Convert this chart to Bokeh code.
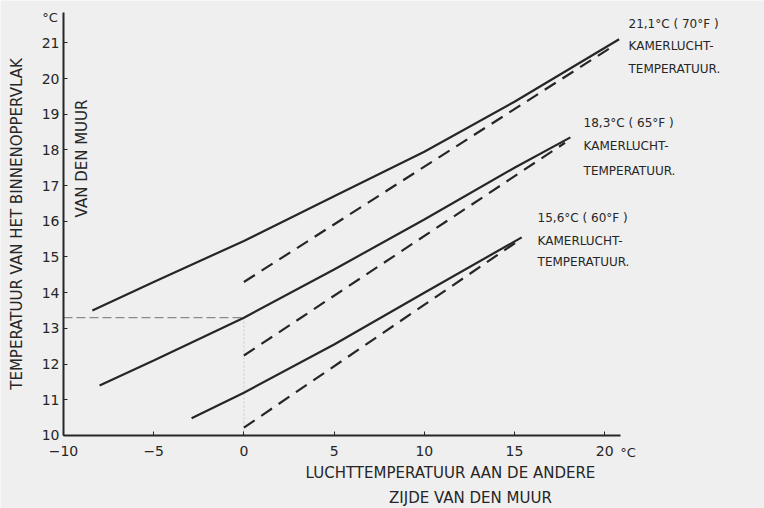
from bokeh.plotting import figure
from bokeh.models import Label, FixedTicker, Range1d
from bokeh.embed import file_html
from bokeh.resources import INLINE
import math

# ---- data ----
x_ticks = [-10, -5, 0, 5, 10, 15, 20]
y_ticks = [10, 11, 12, 13, 14, 15, 16, 17, 18, 19, 20, 21]

# solid curves: wall surface temperature vs outside air temperature
top_x = [-8.4, -5, 0, 5, 10, 15, 20.8]
top_y = [13.5, 14.3, 15.45, 16.7, 17.95, 19.35, 21.1]
mid_x = [-8.0, -5, 0, 5, 10, 15, 18.1]
mid_y = [11.4, 12.1, 13.3, 14.65, 16.05, 17.5, 18.35]
low_x = [-2.9, 0, 5, 10, 15.4]
low_y = [10.48, 11.2, 12.55, 14.0, 15.55]

# dashed straight lines
top_dx = [0, 20.6]
top_dy = [14.3, 20.95]
mid_dx = [0, 17.8]
mid_dy = [12.24, 18.2]
low_dx = [0, 15.2]
low_dy = [10.22, 15.45]

# reading guide at 0 degC outside -> 13.3 degC
guide_hx = [-10, 0]
guide_hy = [13.3, 13.3]
guide_vx = [0, 0]
guide_vy = [10, 13.3]

labels_top = ["21,1°C ( 70°F )", "KAMERLUCHT-", "TEMPERATUUR."]
labels_mid = ["18,3°C ( 65°F )", "KAMERLUCHT-", "TEMPERATUUR."]
labels_low = ["15,6°C ( 60°F )", "KAMERLUCHT-", "TEMPERATUUR."]

BG = "#efefef"
INK = "#262626"
FONT = "DejaVu Sans"

# frame covers the whole canvas; axes are drawn at fixed locations
p = figure(width=764, height=508,
           x_range=Range1d(-13.492, 28.858), y_range=Range1d(7.955, 22.185),
           output_backend="svg", toolbar_location=None,
           min_border_left=0, min_border_right=0,
           min_border_top=0, min_border_bottom=0)

p.background_fill_color = BG
p.border_fill_color = BG
p.outline_line_color = None
p.grid.visible = False

for ax in (p.xaxis[0], p.yaxis[0]):
    ax.axis_line_color = INK
    ax.axis_line_width = 2
    ax.major_tick_line_color = INK
    ax.major_tick_in = 4
    ax.major_tick_out = 0
    ax.minor_tick_line_color = None
    ax.major_label_text_font = FONT
    ax.major_label_text_font_size = "14px"
    ax.major_label_text_color = INK

p.xaxis.fixed_location = 10
p.yaxis.fixed_location = -10
p.xaxis.bounds = (-10, 20.88)
p.yaxis.bounds = (10, 21.85)
p.xaxis.ticker = FixedTicker(ticks=x_ticks)
p.yaxis.ticker = FixedTicker(ticks=y_ticks)
p.xaxis.major_label_standoff = 11
p.yaxis.major_label_standoff = 4

p.yaxis.axis_label = "TEMPERATUUR VAN HET BINNENOPPERVLAK"
p.yaxis.axis_label_text_font = FONT
p.yaxis.axis_label_text_font_size = "15px"
p.yaxis.axis_label_text_font_style = "normal"
p.yaxis.axis_label_text_color = INK
p.yaxis.axis_label_standoff = 13

# guides
p.line(guide_hx, guide_hy, line_color="#8a8a8a", line_width=1.2, line_dash="9 4")
p.line(guide_vx, guide_vy, line_color="#d0d0d0", line_width=1.2, line_dash="2 2")

# curves
for xs, ys in ((top_x, top_y), (mid_x, mid_y), (low_x, low_y)):
    p.line(xs, ys, line_color=INK, line_width=2.2)
for xs, ys in ((top_dx, top_dy), (mid_dx, mid_dy), (low_dx, low_dy)):
    p.line(xs, ys, line_color=INK, line_width=2.2, line_dash="13 8")

def lab(x, y, text, size="12px", align="left", angle=0.0):
    p.add_layout(Label(x=x, y=y, text=text, text_font=FONT, text_font_size=size,
                       text_color=INK, text_align=align, text_baseline="middle",
                       angle=angle))

# curve annotations
for i, t in enumerate(labels_top):
    lab(21.32, [21.54, 20.92, 20.28][i], t)
for i, t in enumerate(labels_mid):
    lab(18.83, [18.74, 18.10, 17.42][i], t)
for i, t in enumerate(labels_low):
    lab(16.28, [16.08, 15.46, 14.85][i], t)

# second line of the y title, inside the plot
lab(-9.0, 17.76, "VAN DEN MUUR", size="15px", align="center", angle=math.pi / 2)
# units
lab(-10.75, 21.71, "°C", size="13px", align="center")
lab(21.3, 9.52, "°C", size="13px", align="center")
# x title (two lines)
lab(11.45, 8.94, "LUCHTTEMPERATUUR AAN DE ANDERE", size="15px", align="center")
lab(12.56, 8.25, "ZIJDE VAN DEN MUUR", size="15px", align="center")

open("out.html", "w").write(file_html(p, INLINE))
